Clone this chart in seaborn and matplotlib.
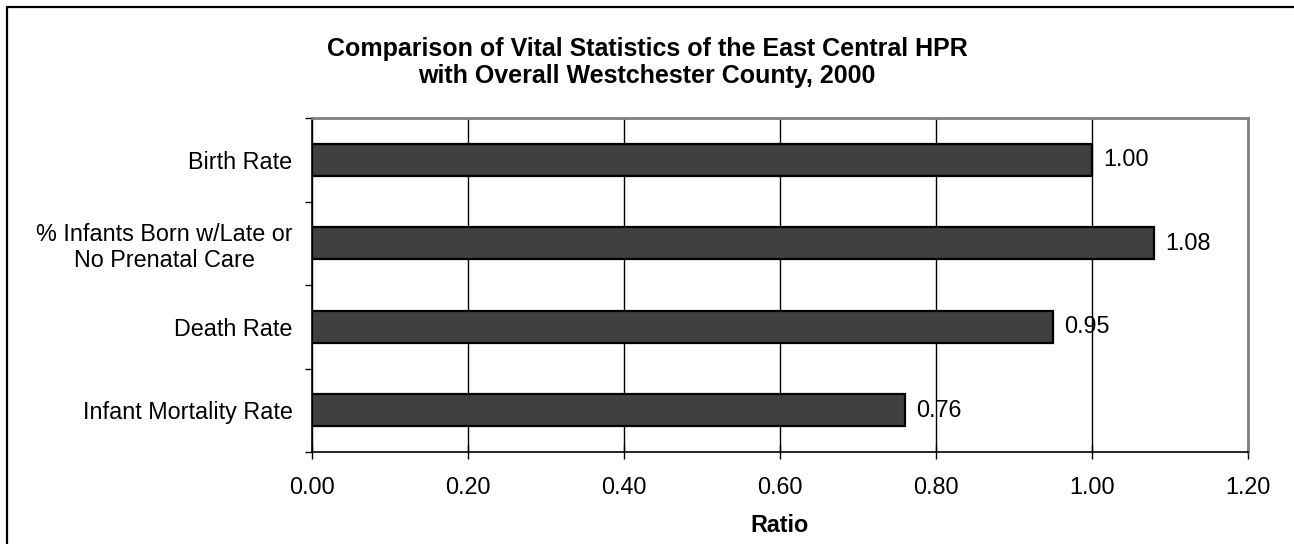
import numpy as np
import matplotlib
matplotlib.use("Agg")
import matplotlib.pyplot as plt
from matplotlib.lines import Line2D
from matplotlib.ticker import FixedLocator
import pandas as pd
import seaborn as sns

categories = ['Birth Rate', '% Infants Born w/Late or\nNo Prenatal Care', 'Death Rate', 'Infant Mortality Rate']
ratios = [1.00, 1.08, 0.95, 0.76]
x_ticks = [0.0, 0.2, 0.4, 0.6, 0.8, 1.0, 1.2]

sns.set_style("white")
plt.rcParams['font.family'] = ['Liberation Sans', 'DejaVu Sans']
plt.rcParams['text.color'] = 'black'
plt.rcParams['axes.labelcolor'] = 'black'
plt.rcParams['xtick.color'] = 'black'
plt.rcParams['ytick.color'] = 'black'

df = pd.DataFrame({'category': categories, 'ratio': ratios})

W, H = 1294, 544
fig = plt.figure(figsize=(W / 100, H / 100), dpi=100)
ax = fig.add_axes([312 / W, 1 - 452 / H, 936 / W, 334 / H])

sns.barplot(data=df, x='ratio', y='category', orient='h', color='#404040',
            saturation=1, width=0.38, edgecolor='black', linewidth=1.6, ax=ax)

ax.set_xlim(0, 1.2)
ax.set_ylim(3.5, -0.5)
ax.set_xticks(x_ticks)
ax.set_xticklabels([f'{v:.2f}' for v in x_ticks], fontsize=16.8)
ax.xaxis.grid(True, color='black', linewidth=1)
ax.set_axisbelow(True)

# category labels: right-aligned block, centred lines
ax.set_yticks(range(len(categories)))
ax.set_yticklabels(categories, fontsize=16.8, ha='right')
for lab in ax.get_yticklabels():
    lab.set_multialignment('center')
ax.tick_params(axis='y', which='major', length=0, pad=14)
ax.yaxis.set_minor_locator(FixedLocator([-0.5, 0.5, 1.5, 2.5, 3.5]))
ax.tick_params(axis='y', which='minor', length=5, width=1, color='black', left=True)
ax.tick_params(axis='x', which='major', length=10, width=1, direction='inout',
               color='black', bottom=True, pad=12)

for s in ['left', 'bottom']:
    ax.spines[s].set_color('black')
    ax.spines[s].set_linewidth(1.2)
for s in ['right', 'top']:
    ax.spines[s].set_color('#808080')
    ax.spines[s].set_linewidth(2)

for i, v in enumerate(ratios):
    ax.annotate(f'{v:.2f}', xy=(v, i), xytext=(8, 0), textcoords='offset points',
                va='center', ha='left', fontsize=16.8, color='black')

ax.set_ylabel('')
ax.set_xlabel('Ratio', fontsize=16.8, fontweight='bold', labelpad=11)

fig.text(0.5, 1 - 56 / H, 'Comparison of Vital Statistics of the East Central HPR',
         ha='center', va='baseline', fontsize=18, fontweight='bold', color='black')
fig.text(0.5, 1 - 83 / H, 'with Overall Westchester County, 2000',
         ha='center', va='baseline', fontsize=18, fontweight='bold', color='black')

# outer frame: only top and left edges fall inside the picture
fig.add_artist(Line2D([7 / W, 1.0], [1 - 7 / H, 1 - 7 / H], transform=fig.transFigure,
                      color='black', linewidth=1.6))
fig.add_artist(Line2D([7 / W, 7 / W], [0.0, 1 - 7 / H], transform=fig.transFigure,
                      color='black', linewidth=1.6))

fig.savefig('out.png', dpi=100)
